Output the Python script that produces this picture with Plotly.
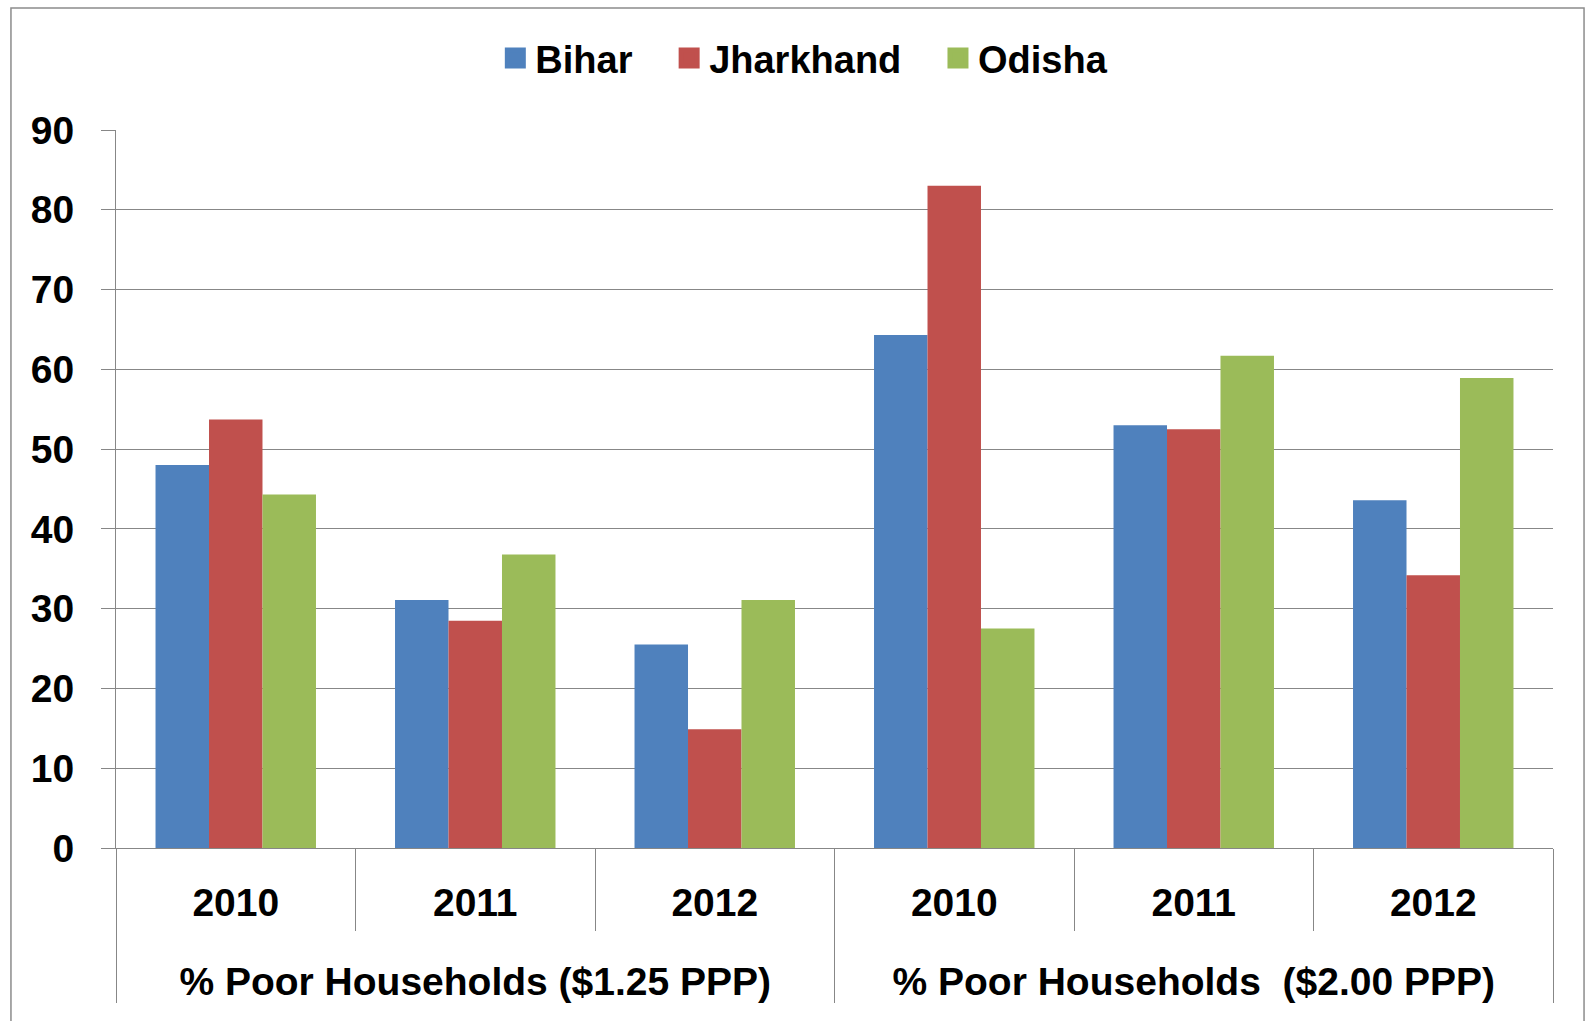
import plotly.graph_objects as go

# Data
groups = ["% Poor Households ($1.25 PPP)"] * 3 + ["% Poor Households  ($2.00 PPP)"] * 3
years = ["2010", "2011", "2012", "2010", "2011", "2012"]

bihar = [48.0, 31.1, 25.5, 64.3, 53.0, 43.6]
jharkhand = [53.7, 28.5, 14.9, 83.0, 52.5, 34.2]
odisha = [44.3, 36.8, 31.1, 27.5, 61.7, 58.9]

series = [
    ("Bihar", bihar, "#4F81BD"),
    ("Jharkhand", jharkhand, "#C0504D"),
    ("Odisha", odisha, "#9BBB59"),
]

FONT = "Liberation Sans"
GRID = "#878787"
PAD = "\u00a0\u00a0\u00a0"  # extra room between legend entries

# an empty, taller second line under each year pushes the group row down
year_labels = [y + "<br><span style='font-size:51px'>&nbsp;</span>" for y in years]

fig = go.Figure()
for name, vals, color in series:
    fig.add_trace(go.Bar(
        x=[groups, year_labels],
        y=vals,
        name=name,
        showlegend=False,
        marker=dict(color=color, line=dict(width=0)),
    ))
    # legend-only entry so the legend square is bigger than the bar icon
    fig.add_trace(go.Scatter(
        x=[[groups[0]], [year_labels[0]]],
        y=[None],
        mode="markers",
        name=name + (PAD if name != "Odisha" else ""),
        marker=dict(symbol="square", size=22, color=color,
                    line=dict(color=color, width=5)),
        hoverinfo="skip",
    ))

fig.update_layout(
    width=1586,
    height=1021,
    paper_bgcolor="white",
    plot_bgcolor="white",
    barmode="group",
    bargap=0.33,
    bargroupgap=0,
    margin=dict(l=116, r=33, t=130, b=173, autoexpand=False),
    font=dict(family=FONT, color="black", weight="bold"),
    legend=dict(
        orientation="h",
        x=0.479, xanchor="center",
        y=1.1, yanchor="middle",
        font=dict(size=38, family=FONT, weight="bold"),
        itemsizing="trace",
        itemwidth=30,
    ),
    shapes=[dict(
        type="rect", xref="paper", yref="paper",
        x0=-0.0731, x1=1.0216, y0=-0.3, y1=1.17,
        line=dict(color="#8c8c8c", width=1.5),
    )],
)

fig.update_yaxes(
    range=[0, 90],
    dtick=10,
    showgrid=True,
    gridcolor=GRID,
    gridwidth=1.2,
    showline=True,
    linecolor=GRID,
    ticks="outside",
    ticklen=14,
    tickcolor=GRID,
    ticklabelstandoff=19,
    tickfont=dict(size=39, family=FONT, weight="bold"),
    zeroline=False,
)

fig.update_xaxes(
    type="multicategory",
    showline=True,
    linecolor=GRID,
    ticks="outside",
    ticklen=82,
    tickcolor=GRID,
    tickson="boundaries",
    showdividers=True,
    dividercolor=GRID,
    dividerwidth=1,
    ticklabelstandoff=20,
    tickfont=dict(size=39, family=FONT, weight="bold"),
)

fig.write_html("out.html", config={"displayModeBar": False},
               post_script="document.body.style.margin='0';")
